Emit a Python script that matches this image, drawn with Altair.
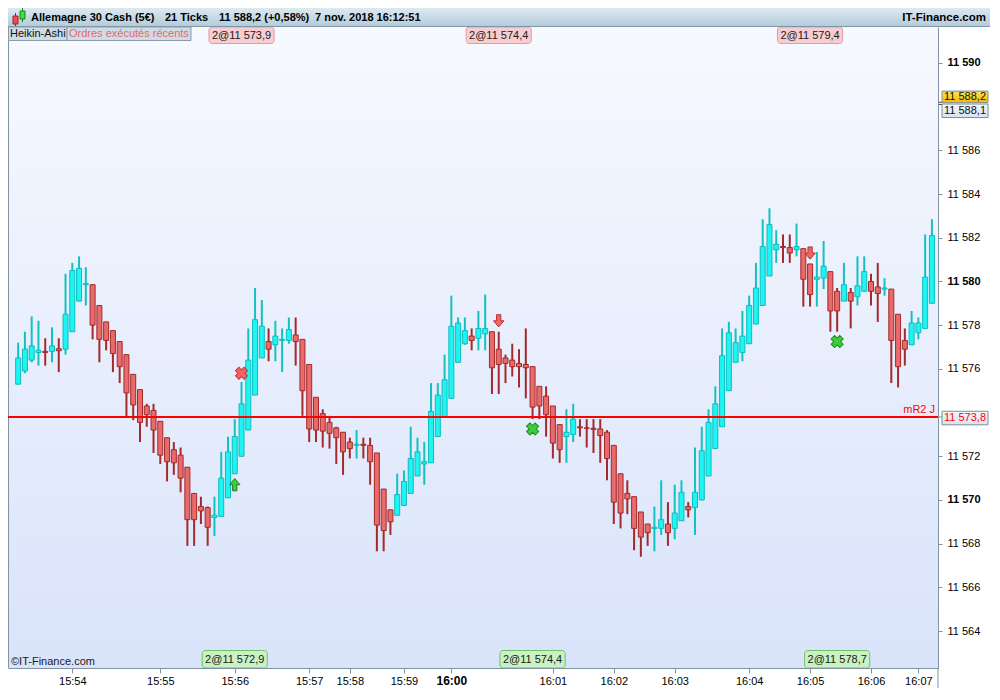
import altair as alt
import pandas as pd

# ---------------- data (Heikin-Ashi candles, one per 21 ticks) ----------------
opens = [11575.3, 11575.9, 11576.4, 11576.75, 11576.8, 11576.8, 11576.92, 11576.9, 11577.7, 11579.1,
         11579.85, 11579.85, 11578.9, 11578.15, 11577.75, 11577.25, 11576.65, 11575.75, 11575.05, 11574.3,
         11574.1, 11573.6, 11572.85, 11572.3, 11572.05, 11571.5, 11570.3, 11569.7, 11569.65, 11569.2,
         11569.25, 11570.1, 11571.2, 11572.0, 11573.2, 11574.8, 11576.5, 11577.25, 11577.1, 11577.3,
         11577.3, 11577.55, 11577.35, 11576.2, 11574.7, 11573.95, 11573.55, 11573.3, 11573.1, 11572.65,
         11572.5, 11572.55, 11572.5, 11572.15, 11570.5, 11569.55, 11569.3, 11569.75, 11570.3, 11571.1,
         11571.65, 11571.7, 11572.9, 11573.8, 11574.65, 11576.3, 11577.15, 11577.5, 11577.4, 11577.6,
         11577.7, 11576.9, 11576.5, 11576.4, 11576.25, 11576.2, 11576.1, 11575.2, 11574.75, 11574.3,
         11573.45, 11572.9, 11573.0, 11573.35, 11573.3, 11573.28, 11573.25, 11573.1, 11572.5, 11571.2,
         11570.3, 11570.15, 11569.45, 11568.9, 11568.7, 11568.7, 11568.9, 11568.7, 11569.05, 11569.7,
         11569.65, 11570.0, 11571.1, 11572.35, 11573.35, 11575.0, 11576.3, 11576.75, 11577.15, 11578.05,
         11578.9, 11580.25, 11581.45, 11581.6, 11581.55, 11581.45, 11581.5, 11580.8, 11580.1, 11580.15,
         11580.45, 11579.55, 11579.1, 11579.5, 11579.3, 11579.55, 11580.0, 11579.75, 11579.65, 11579.65,
         11578.5, 11577.3, 11577.1, 11577.65, 11577.85, 11579.0]
highs = [11577.2, 11577.7, 11578.4, 11578.2, 11577.4, 11577.9, 11577.4, 11580.35, 11580.85, 11581.15,
         11580.65, 11579.85, 11578.9, 11578.15, 11577.75, 11577.25, 11576.65, 11575.75, 11575.05, 11574.4,
         11574.4, 11573.6, 11572.85, 11572.65, 11572.4, 11571.5, 11570.3, 11570.15, 11569.7, 11570.15,
         11572.2, 11572.9, 11573.7, 11575.4, 11577.85, 11579.7, 11579.15, 11577.85, 11578.2, 11577.85,
         11578.35, 11578.35, 11577.35, 11576.2, 11574.7, 11574.15, 11573.85, 11573.35, 11573.1, 11572.85,
         11573.2, 11572.85, 11572.85, 11572.15, 11570.5, 11569.55, 11571.2, 11571.35, 11573.35, 11572.85,
         11572.65, 11575.35, 11575.35, 11576.65, 11579.35, 11578.35, 11578.35, 11577.85, 11578.65, 11579.4,
         11577.7, 11577.7, 11576.65, 11577.15, 11576.9, 11577.85, 11576.1, 11575.2, 11575.2, 11574.3,
         11573.45, 11574.15, 11574.4, 11573.7, 11573.7, 11573.7, 11573.7, 11573.2, 11572.5, 11571.2,
         11570.9, 11570.15, 11569.45, 11568.9, 11569.7, 11570.9, 11569.9, 11570.7, 11570.9, 11569.9,
         11572.4, 11573.35, 11574.15, 11575.2, 11577.85, 11578.15, 11577.85, 11578.65, 11579.35, 11580.85,
         11582.85, 11583.35, 11582.35, 11582.15, 11582.15, 11582.65, 11581.5, 11580.8, 11581.35, 11581.85,
         11580.45, 11579.7, 11580.85, 11579.7, 11581.15, 11581.15, 11580.35, 11580.85, 11580.15, 11579.65,
         11578.5, 11577.85, 11578.65, 11578.35, 11582.15, 11582.85]
lows = [11575.3, 11575.8, 11576.3, 11576.15, 11576.15, 11576.3, 11575.85, 11576.65, 11577.7, 11579.1,
        11578.9, 11577.35, 11576.3, 11576.85, 11575.85, 11575.35, 11573.8, 11573.65, 11572.65, 11573.35,
        11572.15, 11571.65, 11570.85, 11571.15, 11570.35, 11567.9, 11567.9, 11568.9, 11567.9, 11568.35,
        11569.25, 11570.1, 11571.2, 11572.0, 11573.2, 11574.8, 11576.5, 11576.35, 11576.35, 11575.85,
        11577.15, 11576.15, 11573.85, 11572.65, 11572.65, 11572.4, 11572.35, 11571.65, 11571.15, 11571.9,
        11571.9, 11571.9, 11570.7, 11567.65, 11567.65, 11568.4, 11569.3, 11569.75, 11570.3, 11571.1,
        11570.7, 11571.7, 11572.9, 11573.8, 11574.65, 11576.3, 11577.1, 11576.85, 11576.85, 11576.85,
        11574.85, 11574.85, 11575.35, 11575.65, 11575.15, 11574.65, 11573.7, 11573.7, 11572.9, 11571.9,
        11571.7, 11571.7, 11572.65, 11572.9, 11572.4, 11572.15, 11571.7, 11570.9, 11568.9, 11568.7,
        11569.35, 11567.7, 11567.4, 11567.9, 11567.65, 11568.4, 11567.9, 11568.2, 11569.05, 11569.2,
        11568.4, 11570.0, 11571.1, 11572.35, 11573.35, 11575.0, 11576.3, 11576.35, 11577.15, 11578.05,
        11578.9, 11580.25, 11580.85, 11580.85, 11580.85, 11581.15, 11578.85, 11578.85, 11578.85, 11579.65,
        11577.7, 11577.7, 11579.1, 11577.85, 11578.9, 11579.55, 11578.9, 11578.15, 11579.35, 11575.35,
        11575.15, 11576.15, 11577.1, 11577.35, 11577.85, 11579.0]
closes = [11576.5, 11576.9, 11577.05, 11576.85, 11576.75, 11577.05, 11576.83, 11578.5, 11580.5, 11580.6,
          11579.9, 11578.0, 11577.35, 11577.3, 11576.7, 11576.1, 11574.9, 11574.35, 11573.55, 11573.9,
          11573.2, 11572.05, 11571.75, 11571.7, 11571.0, 11569.1, 11569.1, 11569.5, 11568.75, 11569.3,
          11571.0, 11572.2, 11572.9, 11574.4, 11576.4, 11578.25, 11577.95, 11576.9, 11577.5, 11577.35,
          11577.8, 11577.25, 11575.0, 11573.25, 11573.2, 11573.15, 11573.05, 11572.85, 11572.2, 11572.35,
          11572.55, 11572.5, 11571.75, 11568.85, 11568.6, 11569.0, 11570.25, 11570.85, 11571.9, 11572.2,
          11571.75, 11574.05, 11574.8, 11575.5, 11577.95, 11578.1, 11577.75, 11577.3, 11577.85, 11577.85,
          11576.05, 11576.2, 11576.25, 11576.1, 11576.1, 11576.05, 11574.25, 11574.3, 11573.9, 11572.6,
          11572.3, 11573.1, 11573.7, 11573.3, 11573.28, 11573.23, 11572.95, 11571.9, 11569.9, 11569.4,
          11570.05, 11568.7, 11568.3, 11568.5, 11568.75, 11569.1, 11568.5, 11569.4, 11570.35, 11569.55,
          11570.35, 11572.25, 11573.55, 11574.4, 11576.6, 11577.65, 11577.2, 11577.5, 11578.9, 11579.7,
          11581.6, 11582.6, 11581.7, 11581.55, 11581.3, 11581.6, 11580.1, 11579.4, 11580.2, 11580.7,
          11578.65, 11578.65, 11579.85, 11579.1, 11579.8, 11580.45, 11579.55, 11579.45, 11579.7, 11577.3,
          11576.1, 11576.9, 11578.1, 11578.1, 11580.2, 11582.1]

tick_idx = [8, 21, 32, 43, 49, 57, 64, 79, 88, 97, 108, 117, 126, 133]
tick_labels = ["15:54", "15:55", "15:56", "15:57", "15:58", "15:59", "16:00",
               "16:01", "16:02", "16:03", "16:04", "16:05", "16:06", "16:07"]
bold_tick = 64

price_ticks = [11564, 11566, 11568, 11570, 11572, 11576, 11578, 11580, 11582, 11584, 11586, 11590]

level_price = 11573.8
level_name = "mR2 J"
level_text = "11 573,8"
last_price = 11588.2
last_text = "11 588,2"
prev_price = 11588.1
prev_text = "11 588,1"

sell_x_idx = [33]
sell_x_price = [11575.8]
buy_x_idx = [76, 121]
buy_x_price = [11573.25, 11577.25]
up_idx = [32]
up_price = [11570.7]
down_idx = [71, 117]
down_price = [11578.2, 11581.3]

top_order_idx = [33, 71, 117]
top_order_text = ["2@11 573,9", "2@11 574,4", "2@11 579,4"]
bot_order_idx = [32, 76, 121]
bot_order_text = ["2@11 572,9", "2@11 574,4", "2@11 578,7"]

header_parts = ["Allemagne 30 Cash (5€)", "21 Ticks", "11 588,2 (+0,58%)", "7 nov. 2018 16:12:51"]
header_x = [23, 157, 211, 307]
site = "IT-Finance.com"
copyright_text = "©IT-Finance.com"
tab1 = "Heikin-Ashi"
tab2 = "Ordres exécutés récents"

# ---------------- layout ----------------
W, H = 930, 641
FONT = "Liberation Sans"
AX = "#8193a3"

df = pd.DataFrame({"i": list(range(len(opens))), "open": opens, "high": highs,
                   "low": lows, "close": closes})

xscale = alt.Scale(domain=[-0.761, 135.16], nice=False, zero=False)
yscale = alt.Scale(domain=[11562.311, 11591.644], nice=False, zero=False)

lab_expr_x = "[" + ",".join("'%s'" % t for t in tick_labels) + "][indexof([" + \
    ",".join(str(v) for v in tick_idx) + "], datum.value)]"

xaxis = alt.Axis(values=tick_idx, labelExpr=lab_expr_x, title=None, grid=False,
                 tickSize=5, tickColor=AX, domainColor=AX, labelFont=FONT,
                 labelFontSize={"condition": {"test": "datum.value === %d" % bold_tick, "value": 12}, "value": 11},
                 labelFontWeight={"condition": {"test": "datum.value === %d" % bold_tick, "value": "bold"}, "value": "normal"},
                 labelColor="#000000", labelPadding=2, labelOverlap=False, labelFlush=False, zindex=1)
yaxis = alt.Axis(orient="right", values=price_ticks,
                 labelExpr="replace(format(datum.value, ',.0f'), ',', ' ')",
                 title=None, grid=False, tickSize=4, tickColor=AX, domainColor=AX,
                 labelFont=FONT, labelFontSize=11, labelColor="#000000", labelPadding=5,
                 labelFontWeight={"condition": {"test": "datum.value % 10 === 0", "value": "bold"}, "value": "normal"},
                 labelOverlap=False, labelFlush=False, zindex=1)


def X(field="i"):
    return alt.X(field + ":Q", scale=xscale, axis=xaxis)


def Y(field):
    return alt.Y(field + ":Q", scale=yscale, axis=yaxis)


one = pd.DataFrame({"a": [0]})

bg_grad = alt.LinearGradient(gradient="linear", x1=0, x2=0, y1=0, y2=1,
                             stops=[alt.GradientStop(color="#f7f9ff", offset=0),
                                    alt.GradientStop(color="#d9e3fa", offset=1)])
head_grad = alt.LinearGradient(gradient="linear", x1=0, x2=0, y1=0, y2=1,
                               stops=[alt.GradientStop(color="#dde9f0", offset=0),
                                      alt.GradientStop(color="#b2cbd9", offset=1)])
gold_grad = alt.LinearGradient(gradient="linear", x1=0, x2=0, y1=0, y2=1,
                               stops=[alt.GradientStop(color="#ffe45a", offset=0),
                                      alt.GradientStop(color="#f2b800", offset=1)])
pale_grad = alt.LinearGradient(gradient="linear", x1=0, x2=0, y1=0, y2=1,
                               stops=[alt.GradientStop(color="#f4f7fd", offset=0),
                                      alt.GradientStop(color="#d8e2f2", offset=1)])

background = alt.Chart(one).mark_rect(fill=bg_grad).encode(
    x=alt.value(0), x2=alt.value(W), y=alt.value(0), y2=alt.value(H))
left_border = alt.Chart(one).mark_rule(color=AX, strokeWidth=1).encode(
    x=alt.value(0.5), y=alt.value(0), y2=alt.value(H))
axis_ext = alt.Chart(one).mark_rule(color=AX, strokeWidth=1).encode(
    x=alt.value(W), y=alt.value(H), y2=alt.value(H + 20))

up_test = "datum.close >= datum.open"
base = alt.Chart(df)
wicks = base.mark_rule(strokeWidth=2).encode(
    x=X(), y=Y("low"), y2=alt.Y2("high:Q"),
    color=alt.condition(up_test, alt.value("#12c2c2"), alt.value("#a3292b")))
bodies = base.mark_bar(size=5, strokeWidth=1).encode(
    x=X(), y=Y("open"), y2=alt.Y2("close:Q"),
    fill=alt.condition(up_test, alt.value("#1ff4f4"), alt.value("#e96a6a")),
    stroke=alt.condition(up_test, alt.value("#0fbcbc"), alt.value("#a3292b")))

level_df = pd.DataFrame({"p": [level_price], "name": [level_name]})
level_line = alt.Chart(level_df).mark_rule(color="#ff0000", strokeWidth=2).encode(y=Y("p"))
level_lab = alt.Chart(level_df).mark_text(align="right", baseline="bottom", dx=-3, dy=-2,
                                          font=FONT, fontSize=11, color="#ff0000").encode(
    x=alt.value(W), y=Y("p"), text="name:N")

sx = pd.DataFrame({"i": sell_x_idx, "p": sell_x_price})
bx = pd.DataFrame({"i": buy_x_idx, "p": buy_x_price})
sell_marks = alt.Chart(sx).mark_point(shape="cross", angle=45, filled=True, size=150,
                                      fill="#f26464", stroke="#c43a3a", strokeWidth=1, opacity=1).encode(
    x=X(), y=Y("p"))
buy_marks = alt.Chart(bx).mark_point(shape="cross", angle=45, filled=True, size=150,
                                     fill="#3ccc3c", stroke="#1f8a1f", strokeWidth=1, opacity=1).encode(
    x=X(), y=Y("p"))
UP = "M-0.35,1L0.35,1L0.35,0L0.85,0L0,-1L-0.85,0L-0.35,0Z"
DOWN = "M-0.35,-1L0.35,-1L0.35,0L0.85,0L0,1L-0.85,0L-0.35,0Z"
ups = alt.Chart(pd.DataFrame({"i": up_idx, "p": up_price})).mark_point(
    shape=UP, filled=True, size=150, fill="#3ccc3c", stroke="#1f7a1f", strokeWidth=1, opacity=1).encode(
    x=X(), y=Y("p"))
downs = alt.Chart(pd.DataFrame({"i": down_idx, "p": down_price})).mark_point(
    shape=DOWN, filled=True, size=150, fill="#f26464", stroke="#b83232", strokeWidth=1, opacity=1).encode(
    x=X(), y=Y("p"))

# order fill boxes (top: pink, bottom: green)
top_df = pd.DataFrame({"i": top_order_idx, "t": top_order_text})
bot_df = pd.DataFrame({"i": bot_order_idx, "t": bot_order_text})
HALF = 4.81
top_box = alt.Chart(top_df).transform_calculate(a="datum.i - %f" % HALF, b="datum.i + %f" % HALF).mark_rect(
    fill="#f8cdd2", stroke="#e59aa3", strokeWidth=1, cornerRadius=3).encode(
    x=alt.X("a:Q", scale=xscale, axis=xaxis), x2="b:Q", y=alt.value(0), y2=alt.value(16.5))
top_txt = alt.Chart(top_df).mark_text(font=FONT, fontSize=11, color="#202020", baseline="middle").encode(
    x=X(), y=alt.value(8.5), text="t:N")
bot_box = alt.Chart(bot_df).transform_calculate(a="datum.i - %f" % HALF, b="datum.i + %f" % HALF).mark_rect(
    fill="#c9f1c2", stroke="#6cc36c", strokeWidth=1, cornerRadius=3).encode(
    x=alt.X("a:Q", scale=xscale, axis=xaxis), x2="b:Q", y=alt.value(H - 17.5), y2=alt.value(H))
bot_txt = alt.Chart(bot_df).mark_text(font=FONT, fontSize=11, color="#202020", baseline="middle").encode(
    x=X(), y=alt.value(H - 8.5), text="t:N")

# right side price boxes
rp = pd.DataFrame({"p": [last_price, prev_price, level_price],
                   "t": [last_text, prev_text, level_text], "k": ["last", "prev", "level"]})
eq_marks = alt.Chart(pd.DataFrame({"p": [last_price, prev_price]})).mark_rule(color="#404040").encode(
    x=alt.value(W), x2=alt.value(W + 5), y=Y("p"))
lvl_tick = alt.Chart(pd.DataFrame({"p": [level_price]})).mark_rule(color=AX).encode(
    x=alt.value(W), x2=alt.value(W + 5), y=Y("p"))
box_calc = dict(
    top="datum.k == 'last' ? datum.p + 0.51 : (datum.k == 'prev' ? datum.p + 0.02 : datum.p + 0.26)",
    bot="datum.k == 'last' ? datum.p - 0.02 : (datum.k == 'prev' ? datum.p - 0.6 : datum.p - 0.36)",
    mid="datum.k == 'last' ? datum.p + 0.245 : (datum.k == 'prev' ? datum.p - 0.29 : datum.p - 0.05)")
gold_box = alt.Chart(rp).transform_filter("datum.k == 'last'").transform_calculate(**box_calc).mark_rect(
    fill=gold_grad, stroke="#7d8c99", strokeWidth=1).encode(
    x=alt.value(W + 4), x2=alt.value(W + 50), y=Y("top"), y2=alt.Y2("bot:Q"))
pale_box = alt.Chart(rp).transform_filter("datum.k != 'last'").transform_calculate(**box_calc).mark_rect(
    fill=pale_grad, stroke="#7d8c99", strokeWidth=1).encode(
    x=alt.value(W + 4), x2=alt.value(W + 50), y=Y("top"), y2=alt.Y2("bot:Q"))
box_txt = alt.Chart(rp).transform_calculate(**box_calc).mark_text(
    font=FONT, fontSize=11, baseline="middle", align="center").encode(
    x=alt.value(W + 27), y=Y("mid"), text="t:N",
    color=alt.condition("datum.k == 'level'", alt.value("#ff0000"), alt.value("#101010")))

# header band
header = alt.Chart(one).mark_rect(fill=head_grad).encode(
    x=alt.value(0), x2=alt.value(W + 52), y=alt.value(-19), y2=alt.value(0))
header_line = alt.Chart(one).mark_rule(color="#7f96a6").encode(
    x=alt.value(0), x2=alt.value(W + 52), y=alt.value(-0.5))
hdf = pd.DataFrame({"t": header_parts, "x": header_x})
header_txt = alt.Chart(hdf).mark_text(font=FONT, fontSize=11, fontWeight="bold", align="left",
                                      baseline="middle", color="#000000").encode(
    x=alt.X("x:Q", scale=None), y=alt.value(-9.5), text="t:N")
site_txt = alt.Chart(pd.DataFrame({"t": [site]})).mark_text(
    font=FONT, fontSize=11.5, fontWeight="bold", align="right", baseline="middle", color="#000000").encode(
    x=alt.value(W + 48), y=alt.value(-9.5), text="t:N")
icon_wick_r = alt.Chart(one).mark_rule(color="#a02020", strokeWidth=1).encode(
    x=alt.value(7.5), y=alt.value(-14), y2=alt.value(-1))
icon_body_r = alt.Chart(one).mark_rect(fill="#e85050", stroke="#a02020").encode(
    x=alt.value(5), x2=alt.value(10), y=alt.value(-11), y2=alt.value(-3))
icon_wick_g = alt.Chart(one).mark_rule(color="#208020", strokeWidth=1).encode(
    x=alt.value(14.5), y=alt.value(-19), y2=alt.value(-5))
icon_body_g = alt.Chart(one).mark_rect(fill="#40e040", stroke="#208020").encode(
    x=alt.value(12), x2=alt.value(17), y=alt.value(-16), y2=alt.value(-8))

# tabs
tab_box1 = alt.Chart(one).mark_rect(fill="#cfdce6", stroke="#8a9caa").encode(
    x=alt.value(0.5), x2=alt.value(59), y=alt.value(0), y2=alt.value(13.5))
tab_box2 = alt.Chart(one).mark_rect(fill="#cfdce6", stroke="#8a9caa").encode(
    x=alt.value(59), x2=alt.value(183), y=alt.value(0), y2=alt.value(13.5))
tab_txt1 = alt.Chart(pd.DataFrame({"t": [tab1]})).mark_text(
    font=FONT, fontSize=11, align="left", baseline="middle", color="#101010").encode(
    x=alt.value(2), y=alt.value(7), text="t:N")
tab_txt2 = alt.Chart(pd.DataFrame({"t": [tab2]})).mark_text(
    font=FONT, fontSize=11, align="left", baseline="middle", color="#e26a6a").encode(
    x=alt.value(61), y=alt.value(7), text="t:N")
copy_txt = alt.Chart(pd.DataFrame({"t": [copyright_text]})).mark_text(
    font=FONT, fontSize=11, align="left", baseline="middle", color="#202020").encode(
    x=alt.value(3), y=alt.value(H - 6.5), text="t:N")

chart = alt.layer(
    background, left_border, wicks, bodies, level_line, level_lab,
    sell_marks, buy_marks, ups, downs,
    top_box, top_txt, bot_box, bot_txt,
    eq_marks, lvl_tick, gold_box, pale_box, box_txt,
    header, header_line, icon_wick_r, icon_body_r, icon_wick_g, icon_body_g,
    header_txt, site_txt,
    tab_box1, tab_box2, tab_txt1, tab_txt2, copy_txt, axis_ext,
).properties(
    width=W, height=H,
    autosize=alt.AutoSizeParams(type="none"),
    padding={"left": 0, "top": 19, "right": 52, "bottom": 20},
).configure_view(strokeWidth=0)

chart.save("out.html", embed_options={"renderer": "svg", "actions": False})
